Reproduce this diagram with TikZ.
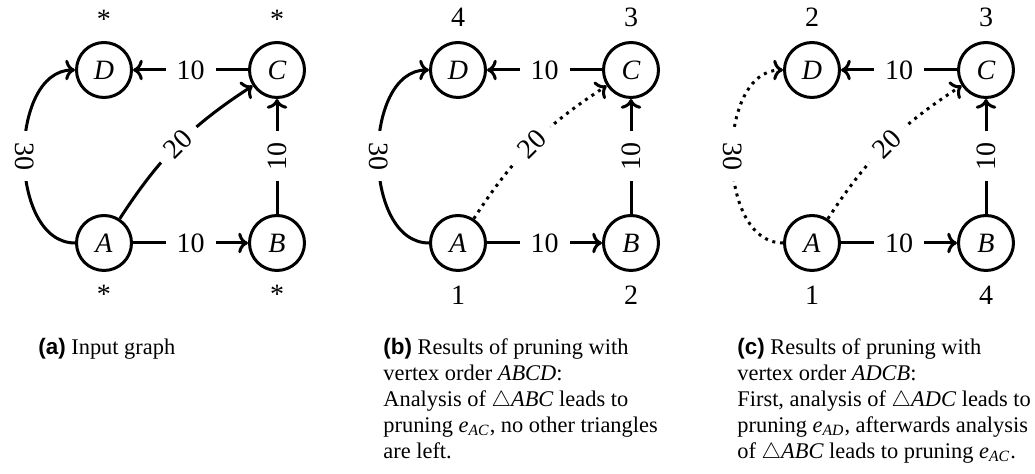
\documentclass[tikz,border=0pt]{standalone}
\usepackage{amsmath}
\usepackage{fontspec}
\setmainfont{Liberation Serif}
\newfontfamily\lblfont{Liberation Sans}
\usetikzlibrary{arrows.meta}
\newcommand\graphfs{\fontsize{14}{16}\selectfont}
\newcommand\capfs{\fontsize{11.2}{13}\selectfont}
\newcommand\sublbl[1]{{\lblfont\bfseries (#1)}}
\tikzset{
  vtx/.style={circle, draw, line width=1.5pt, minimum size=27.5pt, inner sep=0pt, font=\graphfs},
  edg/.style={line width=1.5pt},
  arr/.style={edg, ->},
  pruned/.style={dash pattern=on 1.5pt off 2.4pt},
  elab/.style={fill=white, inner sep=5.5pt, font=\graphfs},
  nlab/.style={anchor=base, inner sep=0pt, font=\graphfs},
  captxt/.style={anchor=north west, inner sep=0pt, align=left, font=\capfs},
}
\begin{document}
\begin{tikzpicture}[x=0.5pt,y=-0.5pt]
\useasboundingbox (0,0) rectangle (1035,474);
% ---------- panel (a)
\node[vtx] (Da) at (104,70) {\textit{D}};
\node[vtx] (Ca) at (277,70) {\textit{C}};
\node[vtx] (Aa) at (104,243) {\textit{A}};
\node[vtx] (Ba) at (277,243) {\textit{B}};
\node[nlab] (tDa) at (104,29) {*};
\node[nlab] (tCa) at (277,29) {*};
\node[nlab] (tAa) at (104,304) {*};
\node[nlab] (tBa) at (277,304) {*};
\draw[arr] (Aa) -- node[elab]{10} (Ba);
\draw[arr] (Ca) -- node[elab]{10} (Da);
\draw[arr] (Ba) -- node[elab, rotate=90]{10} (Ca);
\draw[arr] (Aa) to[bend left=12] node[elab, rotate=45]{20} (Ca);
\draw[arr] (Aa) to[out=180,in=180] node[elab, rotate=-90]{30} (Da);
% ---------- panel (b)
\node[vtx] (Db) at (458,70) {\textit{D}};
\node[vtx] (Cb) at (631,70) {\textit{C}};
\node[vtx] (Ab) at (458,243) {\textit{A}};
\node[vtx] (Bb) at (631,243) {\textit{B}};
\node[nlab] (tDb) at (458,27) {4};
\node[nlab] (tCb) at (631,27) {3};
\node[nlab] (tAb) at (458,305) {1};
\node[nlab] (tBb) at (631,305) {2};
\draw[arr] (Ab) -- node[elab]{10} (Bb);
\draw[arr] (Cb) -- node[elab]{10} (Db);
\draw[arr] (Bb) -- node[elab, rotate=90]{10} (Cb);
\draw[arr, pruned] (Ab) to[bend left=12] node[elab, rotate=45]{20} (Cb);
\draw[arr] (Ab) to[out=180,in=180] node[elab, rotate=-90]{30} (Db);
% ---------- panel (c)
\node[vtx] (Dc) at (812,70) {\textit{D}};
\node[vtx] (Cc) at (986,70) {\textit{C}};
\node[vtx] (Ac) at (812,243) {\textit{A}};
\node[vtx] (Bc) at (986,243) {\textit{B}};
\node[nlab] (tDc) at (812,27) {2};
\node[nlab] (tCc) at (986,27) {3};
\node[nlab] (tAc) at (812,305) {1};
\node[nlab] (tBc) at (986,305) {4};
\draw[arr] (Ac) -- node[elab]{10} (Bc);
\draw[arr] (Cc) -- node[elab]{10} (Dc);
\draw[arr] (Bc) -- node[elab, rotate=90]{10} (Cc);
\draw[arr, pruned] (Ac) to[bend left=12] node[elab, rotate=45]{20} (Cc);
\draw[arr, pruned] (Ac) to[out=180,in=180] node[elab, rotate=-90]{30} (Dc);
% ---------- captions
\node[captxt] (capa) at (38,338) {\sublbl{a} Input graph};
\node[captxt] (capb) at (383,338) {\sublbl{b} Results of pruning with\\
  vertex order \textit{ABCD}:\\
  Analysis of $\triangle$\textit{ABC} leads to\\
  pruning \textit{e}\textsubscript{\textit{AC}}, no other triangles\\
  are left.};
\node[captxt] (capc) at (737,338) {\sublbl{c} Results of pruning with\\
  vertex order \textit{ADCB}:\\
  First, analysis of $\triangle$\textit{ADC} leads to\\
  pruning \textit{e}\textsubscript{\textit{AD}}, afterwards analysis\\
  of $\triangle$\textit{ABC} leads to pruning \textit{e}\textsubscript{\textit{AC}}.};
\end{tikzpicture}
\end{document}
